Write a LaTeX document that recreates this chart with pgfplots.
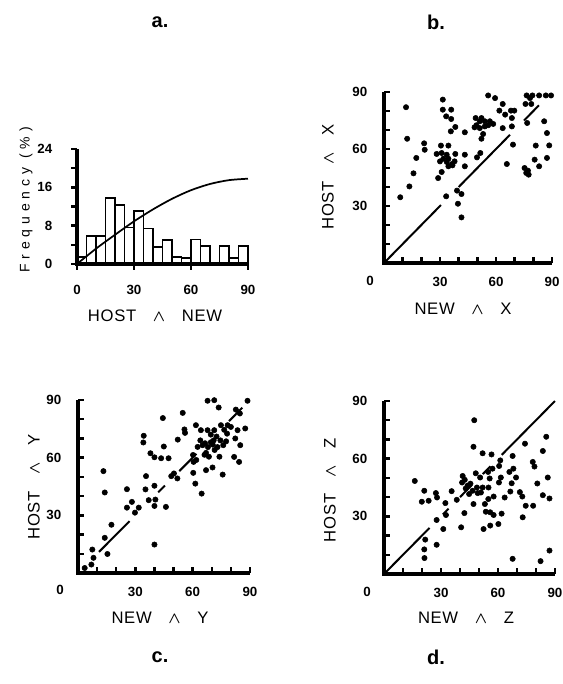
\documentclass[border=0pt]{standalone}
\usepackage{amsmath}
\usepackage{fontspec}
\setmainfont{Liberation Sans}
\usepackage{pgfplots}
\pgfplotsset{compat=1.18}

\pgfplotsset{
  panel/.style={scale only axis, anchor=south west,
    axis x line*=bottom, axis y line*=left,
    axis line style={-, line width=2pt}, xmin=0, xmax=90,
    enlargelimits=false, clip=false,
    major tick length=4pt,
    xtick pos=left, ytick pos=left,
    ticklabel style={font=\bfseries\fontsize{10}{10}\selectfont},
    /pgf/number format/assume math mode=true},
  scat/.style={panel, ymin=0, ymax=90, tick align=inside,
    xtick={10,20,...,90}, ytick={10,20,...,90},
    xticklabels={,,30,,,60,,,90}, yticklabels={,,30,,,60,,,90},
    xticklabel style={yshift=-7pt}, yticklabel style={xshift=-9pt}},
  dots/.style={only marks, mark=*, mark size=2pt, black},
  diag/.style={black, line width=1.5pt, no marks},
  frame/.style={black, line width=2.5pt, line join=miter, no marks},
  tk/.style={black, line width=1.8pt, no marks},
}
\newcommand{\lab}[1]{{\fontsize{12.5}{13}\selectfont\addfontfeatures{LetterSpace=4}#1}}
\newcommand{\wg}{\hspace{1em}{\fontsize{13}{13}\selectfont$\boldsymbol{\wedge}$}\hspace{1em}}

\begin{document}
\begin{tikzpicture}
\path[use as bounding box] (0,0) rectangle (421.5pt,-513pt);

% a. histogram
\begin{axis}[panel, at={(57.75pt,-198pt)}, width=128.25pt, height=86.25pt,
  ymin=0, ymax=24, tick align=outside,
  xtick={0,30,60,90}, ytick={0,4,...,24}, yticklabels={0,,8,,16,,24},
  xticklabel style={yshift=-8pt}, yticklabel style={xshift=-11pt}]
\addplot[ybar interval, fill=white, draw=black, line width=1.2pt] coordinates {
  (0,1.4) (5,5.9) (10,5.9) (15,13.8) (20,12.3) (25,7.6) (30,11.1) (35,7.4)
  (40,3.6) (45,5.0) (50,1.4) (55,1.2) (60,5.1) (65,3.75) (70,0) (75,3.75)
  (80,1.2) (85,3.75) (90,0)
};
\addplot[smooth, black, line width=1.3pt, no marks] coordinates {
  (0,0) (10,3.2) (20,6.1) (30,8.9) (40,11.4) (50,13.6) (60,15.4) (70,16.7) (80,17.5) (90,17.8)
};
\addplot[frame] coordinates {(0,24) (0,0) (90,0)};
\addplot[tk, xcomb] coordinates {(-3,0) (-3,4) (-3,8) (-3,12) (-3,16) (-3,20) (-3,24)};
\addplot[tk, ycomb] coordinates {(0,-1.2) (30,-1.2) (60,-1.2) (90,-1.2)};
\end{axis}

% b. HOST ^ X vs NEW ^ X
\begin{axis}[scat, at={(288pt,-197.25pt)}, width=126pt, height=128.25pt]
\addplot[diag] coordinates {(0,0) (30.5,30.5)};
\addplot[diag] coordinates {(40,40) (67.5,67.5)};
\addplot[diag] coordinates {(75,75) (83,83)};
\addplot[dots] coordinates {
  (11.8,82) (12.4,65.4) (21.5,63) (21.8,59.6) (17.3,55.3) (15.8,47.2) (13.6,40.3) (8.7,34.6)
  (31.5,86) (31.5,80.7) (36,80.7) (33.3,77.2) (36,75.8) (38.2,71.6) (35.8,69.3) (43.3,68.8)
  (30.5,61.8) (34.5,61.8) (28.2,57.4) (30.9,57.9) (33.6,57) (31.8,54.9) (34.5,54.9) (38.2,57.4)
  (43.3,57) (30,53.5) (33.6,53.2) (36.4,52.1) (37.8,53.5) (34.5,50.9) (36.7,51.4) (43.3,50.9)
  (30.9,47.9) (29,44.7) (39.1,38.1) (41.5,36.3) (33.3,35.1) (39.6,31.2) (41.5,24)
  (55.8,88.2) (59.5,86.8) (63.6,83.7) (61.8,80.2) (64.9,78.1) (68,80.2) (69.8,80.2) (68.5,76.3)
  (49.1,76.3) (52.2,76.3) (51.3,74.6) (54,74.6) (56.7,74.6) (58.5,73.2) (49.5,72.5) (48.5,71.4)
  (51.3,71) (54,71.9) (55.8,72.5) (63.6,71) (68.5,71.9) (53.1,67.9) (52.2,65.4) (69.1,62.3)
  (51.6,57.9) (49.8,55.6) (65.8,52.1)
  (76.4,88.2) (79.5,88.2) (83.1,88.2) (86.7,88.2) (89.5,88.2) (78.2,86.8) (75.8,83.7) (78.9,83.7)
  (76.7,73.7) (85.8,74.6) (87.3,68.4) (81.3,61.8) (88.5,61.9) (80.7,54.4) (87.3,55.3) (83.1,50.9)
  (75.3,50) (77.1,48.6) (76.2,47.4) (77.5,46.5)
};
\addplot[frame] coordinates {(0,90) (0,0) (90,0)};
\addplot[tk, ycomb] coordinates {(10,3) (20,3) (30,3) (40,3) (50,3) (60,3) (70,3) (80,3) (90,3)};
\addplot[tk, xcomb] coordinates {(3,10) (3,20) (3,30) (3,40) (3,50) (3,60) (3,70) (3,80) (3,90)};
\end{axis}

% c. HOST ^ Y vs NEW ^ Y
\begin{axis}[scat, at={(58.5pt,-429.75pt)}, width=129pt, height=129.75pt]
\addplot[diag] coordinates {(11,11) (27,27)};
\addplot[diag] coordinates {(42,42) (45.5,45.5)};
\addplot[diag] coordinates {(53,53) (62,62)};
\addplot[diag] coordinates {(79,79) (86,86)};
\addplot[dots] coordinates {
  (3.5,2.6) (7,4.4) (8.1,7.9) (7.5,12.2) (15.4,9.9) (14,18.3) (17.5,25.1) (13.3,53) (14,41.9)
  (25.6,43.6) (25.6,34) (28.2,37) (31.8,34) (29.8,31.4) (34.4,71.4) (34.2,67.9) (44.4,80.6)
  (44.9,65.8) (37.9,62.3) (40,60.2) (43.5,59.7) (35.6,50.4) (35.3,43.5) (40,45.4) (37,37.9)
  (40.5,38.2) (40,34.9) (40,14.8) (46,34.4)
  (47.4,59.7) (50.2,51.8) (48.8,50.4) (52,49.2) (52.2,69.4) (55.7,74.7) (56,72.9) (54.8,83.3)
  (60.2,61.4) (61.9,58.8) (60.3,52.1) (61.4,46.5) (64.7,41.3) (67,53.5) (70.4,54.9) (75.7,51.2)
  (60.5,57.8) (61.7,76.9) (64.3,74.3) (67.8,74.3) (71.3,74.3) (74.8,76.9) (78.3,76.9)
  (67.8,89.6) (71.3,89.9) (73.6,86.1) (82.6,85) (84.7,83) (88.7,89.6)
  (83.5,74.3) (87.5,75.2) (82.3,70) (84.9,66.5) (81.7,60.4) (84.3,57.8)
  (62.6,65.6) (65.2,66.5) (66.5,67.5) (68,65.5) (69.5,68) (71,69) (67,62.5) (68.5,60.5)
  (66.2,61.5) (71.5,64) (74.5,69) (76,66.5) (77.5,68.5) (72.5,71) (69.5,72) (64,69)
  (70.5,66.8) (73,65.5) (74,60.5) (78,72.5) (80,76) (76.5,74.5)
};
\addplot[frame] coordinates {(0,90) (0,0) (90,0)};
\addplot[tk, ycomb] coordinates {(10,3) (20,3) (30,3) (40,3) (50,3) (60,3) (70,3) (80,3) (90,3)};
\addplot[tk, xcomb] coordinates {(3,10) (3,20) (3,30) (3,40) (3,50) (3,60) (3,70) (3,80) (3,90)};
\end{axis}

% d. HOST ^ Z vs NEW ^ Z
\begin{axis}[scat, at={(288pt,-430.5pt)}, width=128.25pt, height=129.75pt]
\addplot[diag] coordinates {(0,0) (24,24)};
\addplot[diag] coordinates {(31,31) (34,34)};
\addplot[diag] coordinates {(40,40) (46,46)};
\addplot[diag] coordinates {(52,52) (56,56)};
\addplot[diag] coordinates {(62,62) (90,90)};
\addplot[dots] coordinates {
  (16.2,48.4) (21.2,43.3) (19.9,37.6) (23.5,38.1) (27.3,42.1) (27.9,39.8) (32.3,36.9) (35.6,43.1)
  (38.3,38.6) (41.4,51) (41.1,47.6) (32.6,30.7) (27.7,28.1) (31.2,23.4) (40.6,24.3) (42.3,31.7)
  (21.7,17.9) (21.2,12.8) (21.3,8.3) (27.7,15.2)
  (42.5,49) (44,46) (43,44.5) (45.5,47)
  (47.5,80) (47.1,66.2) (51.9,62.8) (56.6,62.2) (61.2,59.1) (67.7,61.4) (74.2,67.8) (85.4,71.4)
  (83.6,64) (78.3,58.3) (79.2,55.9) (86.2,50.2) (80.7,47.1) (83.6,41) (87.1,39.3)
  (48.3,52.4) (50.6,50.2) (54.8,53.1) (57.1,54.8) (60.6,56.2) (55.6,49.7) (61.5,50.2) (60.5,47.6)
  (55,45) (51.9,45) (48.9,45) (46.6,43.3) (49.3,42.1) (51,42.4) (44.8,41.6) (47.1,36.4)
  (53.1,36.4) (54.9,39) (57.7,40.3) (66,53.1) (68.1,54.8) (69.5,50.2) (67.2,47.2) (66.5,42.9)
  (63.5,39.8) (71.5,42.6) (72.8,40.3) (74.6,35.5) (78.5,35.5) (73,29.5) (53.6,32.4) (55.9,32.1)
  (57.7,30.7) (61.9,31.4) (52.4,23.4) (55.9,25.2) (60.2,26) (67.7,7.9) (82.4,6.7) (87.1,12.2)
};
\addplot[frame] coordinates {(0,90) (0,0) (90,0)};
\addplot[tk, ycomb] coordinates {(10,3) (20,3) (30,3) (40,3) (50,3) (60,3) (70,3) (80,3) (90,3)};
\addplot[tk, xcomb] coordinates {(3,10) (3,20) (3,30) (3,40) (3,50) (3,60) (3,70) (3,80) (3,90)};
\end{axis}

% corner zeros
\node[font=\bfseries\fontsize{10}{10}\selectfont] at (277.5pt,-210.75pt) {0};
\node[font=\bfseries\fontsize{10}{10}\selectfont] at (45pt,-442.5pt) {0};
\node[font=\bfseries\fontsize{10}{10}\selectfont] at (275.25pt,-444pt) {0};

% axis labels
\node[rotate=90] at (19.5pt,-150pt) {{\fontsize{10.5}{11}\selectfont\addfontfeatures{LetterSpace=35}Frequency (\%)}};
\node at (116.25pt,-237pt) {\lab{HOST\wg NEW}};
\node[rotate=90] at (246pt,-132.75pt) {\lab{HOST\wg X}};
\node at (347.25pt,-231.75pt) {\lab{NEW\wg X}};
\node[rotate=90] at (25.5pt,-365.25pt) {\lab{HOST\wg Y}};
\node at (120pt,-463.5pt) {\lab{NEW\wg Y}};
\node[rotate=90] at (247.5pt,-367.5pt) {\lab{HOST\wg Z}};
\node at (349.5pt,-463.5pt) {\lab{NEW\wg Z}};

% panel letters
\node[font=\bfseries\fontsize{15}{16}\selectfont] at (120pt,-16.5pt) {a.};
\node[font=\bfseries\fontsize{15}{16}\selectfont] at (327pt,-16.5pt) {b.};
\node[font=\bfseries\fontsize{15}{16}\selectfont] at (120pt,-492.75pt) {c.};
\node[font=\bfseries\fontsize{15}{16}\selectfont] at (327pt,-492.75pt) {d.};
\end{tikzpicture}
\end{document}
